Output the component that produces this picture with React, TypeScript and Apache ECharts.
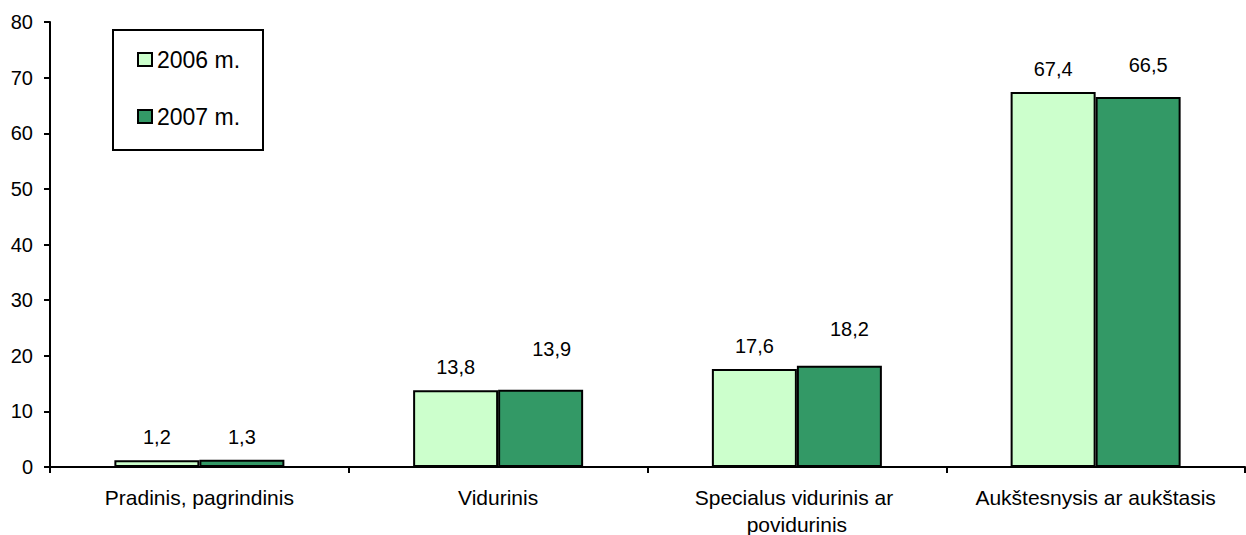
import React, { useEffect, useRef } from "react";
import * as echarts from "echarts";

const categories = [
  "Pradinis, pagrindinis",
  "Vidurinis",
  "Specialus vidurinis ar povidurinis",
  "Aukštesnysis ar aukštasis",
];
const seriesNames = ["2006 m.", "2007 m."];
const values2006 = [1.2, 13.8, 17.6, 67.4];
const values2007 = [1.3, 13.9, 18.2, 66.5];
const yTicks = { min: 0, max: 80, interval: 10 };

// label offsets (styling only) for the 2007 series, as in the source
const label2007Offsets: [number, number][] = [
  [0, 0],
  [11, -18],
  [10, -14],
  [10, -9],
];

const FONT = "'Liberation Sans', Arial, sans-serif";

const fmt = (p: any) => String(p.value).replace(".", ",");

export default function App() {
  const ref = useRef<HTMLDivElement>(null);
  useEffect(() => {
    if (!ref.current) return;
    const chart = echarts.init(ref.current, undefined, { renderer: "svg" });
    const baseLabel = {
      show: true,
      position: "top",
      distance: 13,
      color: "#000",
      fontSize: 20,
      fontFamily: FONT,
      formatter: fmt,
    };
    chart.setOption({
      animation: false,
      backgroundColor: "#fff",
      textStyle: { fontFamily: FONT },
      grid: {
        left: 50,
        right: 1,
        top: 22,
        bottom: 68,
        containLabel: false,
        outerBoundsMode: "none",
      },
      graphic: [
        {
          type: "rect",
          shape: { x: 113, y: 30, width: 150, height: 120 },
          style: { fill: "#fff", stroke: "#000", lineWidth: 2 },
          z: 1,
        },
      ],
      legend: {
        data: seriesNames,
        orient: "vertical",
        left: 137,
        top: 48,
        padding: 0,
        itemWidth: 14,
        itemHeight: 13,
        itemGap: 34,
        icon: "rect",
        textStyle: { fontSize: 23, fontFamily: FONT, color: "#000", lineHeight: 23 },
        z: 5,
      },
      xAxis: {
        type: "category",
        data: categories,
        axisLine: { show: true, lineStyle: { color: "#000", width: 2 } },
        axisTick: { show: true, length: 6, lineStyle: { color: "#000", width: 2 } },
        axisLabel: {
          color: "#000",
          fontSize: 21,
          fontFamily: FONT,
          margin: 17,
          lineHeight: 27,
          width: 290,
          overflow: "break",
          interval: 0,
        },
        splitLine: { show: false },
      },
      yAxis: {
        type: "value",
        min: yTicks.min,
        max: yTicks.max,
        interval: yTicks.interval,
        axisLine: { show: true, lineStyle: { color: "#000", width: 2 } },
        axisTick: { show: true, length: 6, lineStyle: { color: "#000", width: 2 } },
        axisLabel: { color: "#000", fontSize: 20, fontFamily: FONT, margin: 17 },
        splitLine: { show: false },
      },
      series: [
        {
          name: seriesNames[0],
          type: "bar",
          data: values2006,
          barWidth: 85,
          barGap: "0%",
          itemStyle: { color: "#CCFFCC", borderColor: "#000", borderWidth: 2 },
          label: baseLabel,
        },
        {
          name: seriesNames[1],
          type: "bar",
          data: values2007.map((v, i) => ({
            value: v,
            label: { offset: label2007Offsets[i] },
          })),
          barWidth: 85,
          barGap: "0%",
          itemStyle: { color: "#339966", borderColor: "#000", borderWidth: 2 },
          label: baseLabel,
        },
      ],
    });
    return () => chart.dispose();
  }, []);
  return (
    <div
      ref={ref}
      style={{ position: "absolute", left: 0, top: 0, width: 1246, height: 535 }}
    />
  );
}
